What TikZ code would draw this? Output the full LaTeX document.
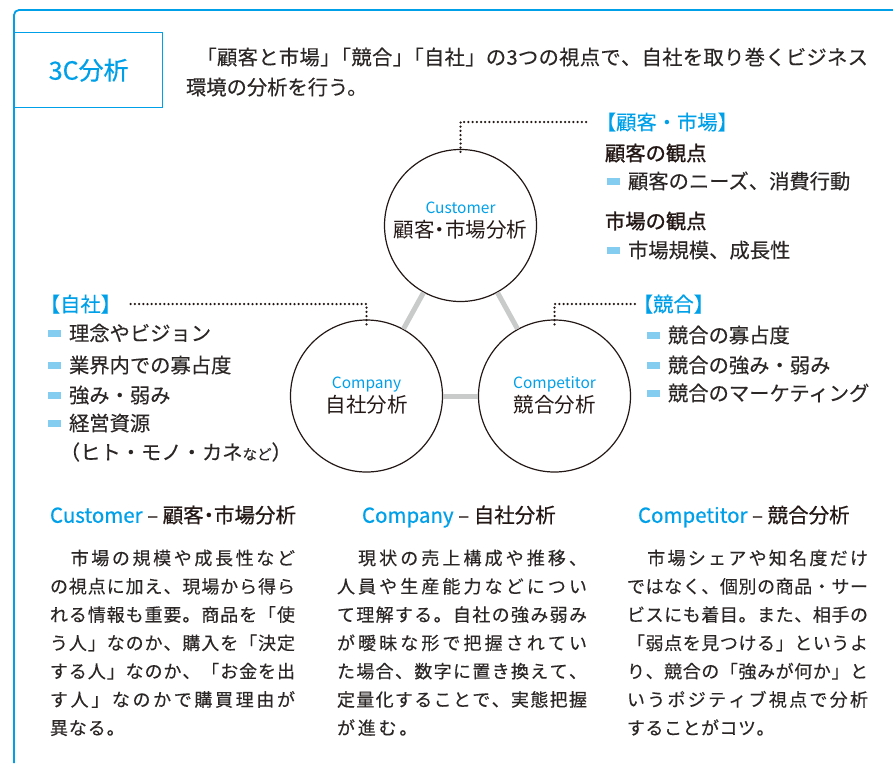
\documentclass[tikz,border=0pt]{standalone}
\usepackage{fontspec}
\setmainfont{Noto Sans CJK JP}
\setsansfont{Noto Sans CJK JP}
\newfontfamily\medfont[FakeBold=1.2]{Noto Sans CJK JP}
\newfontfamily\semifont[FakeBold=0.6]{Noto Sans CJK JP}
\newfontfamily\bodyfont[FakeBold=0.25]{Noto Sans CJK JP}
\definecolor{cblue}{HTML}{00A0E9}
\definecolor{bul}{HTML}{84CCF0}
\definecolor{gline}{HTML}{C9CACA}
\definecolor{ink}{HTML}{231815}
\definecolor{body}{HTML}{2B2726}
\ExplSyntaxOn
\NewDocumentCommand\jline{mm}{\hbox~to~#1{\tl_map_inline:nn{#2}{##1\hfil}\unskip}}
\ExplSyntaxOff
\newcommand\bulbox{\textcolor{bul}{\rule[3.6pt]{13pt}{7.5pt}}\hspace{8pt}}
\tikzset{
  txt/.style={inner sep=0pt, outer sep=0pt, anchor=west, text=body},
  fintro/.style={font=\bodyfont\fontsize{20.3}{20.3}\selectfont, text height=17.9pt, text depth=2.4pt},
  f20/.style={font=\bodyfont\fontsize{20.3}{20.3}\selectfont, text height=17.9pt, text depth=2.4pt},
  f205/.style={font=\fontsize{20.5}{20.5}\selectfont, text height=18pt, text depth=2.5pt},
  f155/.style={font=\fontsize{15.5}{15.5}\selectfont, text height=13.6pt, text depth=1.9pt},
  f18/.style={font=\bodyfont\fontsize{18}{18}\selectfont, text height=15.8pt, text depth=2.2pt},
  head/.style={txt, f20, text=cblue},
  sub/.style={txt, text height=17.9pt, text depth=2.4pt, text=ink, font=\medfont\fontsize{20.3}{20.3}\selectfont},
  item/.style={txt, f20},
  bodyline/.style={txt, f18},
  heading/.style={txt, text height=18pt, text depth=2.5pt, text=ink, font=\semifont\fontsize{20.5}{20.5}\selectfont},
  ctitle/.style={inner sep=0pt, f205, text=ink},
  clatin/.style={inner sep=0pt, f155, text=cblue},
  circ/.style={circle, draw=ink, line width=1.2pt, minimum size=152pt, inner sep=0pt},
  conn/.style={draw=gline, line width=5pt},
  dotline/.style={draw=ink, line width=2.5pt, line cap=round, dash pattern=on 0pt off 4.2pt},
  frame/.style={draw=cblue, line width=1.8pt, rounded corners=5pt},
}
\begin{document}
\begin{tikzpicture}[x=1pt,y=-1pt]
\useasboundingbox (0,0) rectangle (893,763);
% frame
\draw[frame] (14,763) -- (14,10) -- (893,10);
\node[draw=cblue, line width=1.4pt, minimum width=148pt, minimum height=75pt, inner sep=0pt,
  anchor=north west, font=\semifont\fontsize{25}{25}\selectfont, text=cblue] (title) at (14,32) {3C分析};
% intro
\node[txt, fintro] (intro1) at (186,57) {\jline{682pt}{{\hspace*{0.5em}}「顧客と市場」{\hspace{-.5em}}「競合」{\hspace{-.5em}}「自社」の3つの視点で、自社を取り巻くビジネス}};
\node[txt, fintro] (intro2) at (186,87) {環境の分析を行う。};
% circles
\node[circ] (cust) at (460.5,225.5) {};
\node[circ] (comp) at (366.5,396) {};
\node[circ] (compt) at (554.5,396) {};
\draw[conn] (cust) -- (comp);
\draw[conn] (cust) -- (compt);
\draw[conn] (comp) -- (compt);
\node[clatin] (custL) at (460.5,208) {Customer};
\node[ctitle] (custT) at (460.5,230) {顧客\hspace{-.25em}・\hspace{-.25em}市場分析};
\node[clatin] (compL) at (366.5,383) {Company};
\node[ctitle] (compT) at (366.5,405) {自社分析};
\node[clatin] (comptL) at (554.5,383) {Competitor};
\node[ctitle] (comptT) at (554.5,405) {競合分析};
% customer notes
\node[head] (custhead) at (606,122) {\hspace*{-.5em}【顧客・市場】\hspace*{-.5em}};
\node[sub] (custsub1) at (605,153) {顧客の観点};
\node[item] (custi1) at (607,181) {\bulbox 顧客のニーズ、消費行動};
\node[sub] (custsub2) at (605,221) {市場の観点};
\node[item] (custi2) at (607,250) {\bulbox 市場規模、成長性};
\draw[dotline] ([yshift=-3pt]cust.north) |- ([xshift=-18pt]custhead.west);
% company notes
\node[head] (comphead) at (50,304) {\hspace*{-.5em}【自社】\hspace*{-.5em}};
\node[item] (compi1) at (48,333) {\bulbox 理念やビジョン};
\node[item] (compi2) at (48,365) {\bulbox 業界内での寡占度};
\node[item] (compi3) at (48,395) {\bulbox 強み・弱み};
\node[item] (compi4) at (48,423) {\bulbox 経営資源};
\node[item] (compi5) at (70,452) {\hspace*{-.5em}（ヒト・モノ・カネ{\fontsize{14.5}{14.5}\selectfont など}）};
\draw[dotline] ([yshift=-5pt]comp.north) |- ([xshift=18pt]comphead.east);
% competitor notes
\node[head] (compethead) at (643,304) {\hspace*{-.5em}【競合】\hspace*{-.5em}};
\node[item] (competi1) at (647,335) {\bulbox 競合の寡占度};
\node[item] (competi2) at (647,365) {\bulbox 競合の強み・弱み};
\node[item] (competi3) at (647,393) {\bulbox 競合のマーケティング};
\draw[dotline] ([yshift=-5pt]compt.north) |- ([xshift=-8pt]compethead.west);
% bottom headings
\node[heading] (h1) at (50,515) {{\color{cblue}Customer} – 顧客\hspace{-.25em}・\hspace{-.25em}市場分析};
\node[heading] (h2) at (362,515) {{\color{cblue}Company} – 自社分析};
\node[heading] (h3) at (638,515) {{\color{cblue}Competitor} – 競合分析};
% customer body
\node[bodyline] (a1) at (50,558) {\jline{245pt}{　市場の規模や成長性など}};
\node[bodyline] (a2) at (50,586.3) {\jline{245pt}{の視点に加え、現場から得ら}};
\node[bodyline] (a3) at (50,614.6) {\jline{245pt}{れる情報も重要。商品を「使}};
\node[bodyline] (a4) at (50,642.9) {\jline{245pt}{う人」なのか、購入を「決定}};
\node[bodyline] (a5) at (50,671.2) {\jline{245pt}{する人」なのか、「お金を出}};
\node[bodyline] (a6) at (50,699.5) {\jline{245pt}{す人」なのかで購買理由が}};
\node[bodyline] (a7) at (50,727.8) {\jline{74.7pt}{異なる。}};
% company body
\node[bodyline] (b1) at (337,558) {\jline{250pt}{　現状の売上構成や推移、}};
\node[bodyline] (b2) at (337,586.3) {\jline{250pt}{人員や生産能力などについ}};
\node[bodyline] (b3) at (337,614.6) {\jline{250pt}{て理解する。自社の強み弱み}};
\node[bodyline] (b4) at (337,642.9) {\jline{250pt}{が曖昧な形で把握されてい}};
\node[bodyline] (b5) at (337,671.2) {\jline{250pt}{た場合、数字に置き換えて、}};
\node[bodyline] (b6) at (337,699.5) {\jline{250pt}{定量化することで、実態把握}};
\node[bodyline] (b7) at (337,727.8) {\jline{80.4pt}{が進む。}};
% competitor body
\node[bodyline] (c1) at (627,558) {\jline{241pt}{　市場シェアや知名度だけ}};
\node[bodyline] (c2) at (627,586.3) {\jline{241pt}{ではなく、個別の商品・サー}};
\node[bodyline] (c3) at (627,614.6) {\jline{241pt}{ビスにも着目。また、相手の}};
\node[bodyline] (c4) at (627,642.9) {\jline{241pt}{「弱点を見つける」というよ}};
\node[bodyline] (c5) at (627,671.2) {\jline{241pt}{り、競合の「強みが何か」と}};
\node[bodyline] (c6) at (627,699.5) {\jline{241pt}{いうポジティブ視点で分析}};
\node[bodyline] (c7) at (627,727.8) {\jline{147.5pt}{することがコツ。}};
\end{tikzpicture}
\end{document}
